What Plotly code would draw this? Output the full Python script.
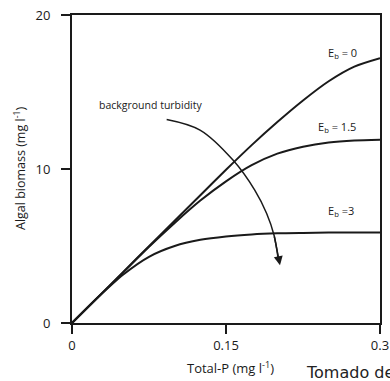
import plotly.graph_objects as go

# Data
total_p = [0.0, 0.025, 0.05, 0.075, 0.1, 0.125, 0.15, 0.175, 0.2, 0.225, 0.25, 0.275, 0.3]
biomass_e0 = [0.0, 1.66, 3.32, 4.98, 6.64, 8.3, 9.95, 11.55, 13.05, 14.45, 15.7, 16.65, 17.2]
biomass_e15 = [0.0, 1.65, 3.3, 4.95, 6.5, 7.95, 9.2, 10.25, 11.0, 11.45, 11.72, 11.85, 11.9]
biomass_e3 = [0.0, 1.65, 3.15, 4.3, 5.0, 5.4, 5.62, 5.75, 5.82, 5.85, 5.87, 5.88, 5.88]

arrow_x = [0.0922, 0.1247, 0.1568, 0.178, 0.1896, 0.1968, 0.2006, 0.2026]
arrow_y = [13.22, 12.53, 10.58, 8.63, 7.11, 5.70, 4.27, 3.75]

x_ticks = [0, 0.15, 0.3]
x_tick_text = ["0", "0.15", "0.3"]
y_ticks = [0, 10, 20]
y_tick_text = ["0", "10", "20"]

line_col = "#1a1a1a"
font_fam = "Open Sans, Liberation Sans, sans-serif"

fig = go.Figure()
for ys in [biomass_e0, biomass_e15, biomass_e3]:
    fig.add_trace(go.Scatter(x=total_p, y=ys, mode="lines",
                             line=dict(color=line_col, width=2, shape="spline", smoothing=0.8),
                             showlegend=False, hoverinfo="skip"))

fig.add_trace(go.Scatter(x=arrow_x[:-1], y=arrow_y[:-1], mode="lines",
                         line=dict(color=line_col, width=1.5, shape="spline"), showlegend=False, hoverinfo="skip"))
fig.add_annotation(x=arrow_x[-1], y=arrow_y[-1], ax=arrow_x[-3], ay=arrow_y[-3], axref="x", ayref="y",
                   xref="x", yref="y", showarrow=True, arrowhead=2, arrowsize=1.2, arrowwidth=1.5,
                   arrowcolor=line_col, text="")

fig.add_annotation(x=0.077, y=13.6, text="background turbidity", showarrow=False, xanchor="center",
                   yanchor="bottom", font=dict(family=font_fam, size=10.5, color=line_col))
fig.add_annotation(x=0.263, y=17.55, text="E<sub>b</sub> = 0", showarrow=False,
                   font=dict(family=font_fam, size=11, color=line_col))
fig.add_annotation(x=0.258, y=12.7, text="E<sub>b</sub> = 1.5", showarrow=False,
                   font=dict(family=font_fam, size=11, color=line_col))
fig.add_annotation(x=0.262, y=7.25, text="E<sub>b</sub> =3", showarrow=False,
                   font=dict(family=font_fam, size=11, color=line_col))

# Axis titles as paper-positioned text
fig.add_annotation(x=0.513, y=-0.146, xref="paper", yref="paper", xanchor="center", yanchor="middle",
                   text="Total-P (mg l<sup>-1</sup>)", showarrow=False,
                   font=dict(family=font_fam, size=13, color=line_col))
fig.add_annotation(x=-0.169, y=0.503, xref="paper", yref="paper", xanchor="center", yanchor="middle",
                   text="Algal biomass (mg l<sup>-1</sup>)", showarrow=False, textangle=-90,
                   font=dict(family=font_fam, size=12.5, color=line_col))

fig.add_annotation(x=0.753, y=-0.123, xref="paper", yref="paper", xanchor="left", yanchor="top",
                   text="Tomado de", showarrow=False,
                   font=dict(family="DejaVu Sans", size=16, color="#222222"))

fig.update_layout(
    width=390, height=381,
    margin=dict(l=72, r=10, t=15, b=58),
    paper_bgcolor="white", plot_bgcolor="white",
    font=dict(family=font_fam, color=line_col),
    xaxis=dict(range=[0, 0.3], tickvals=x_ticks, ticktext=x_tick_text, ticks="outside", ticklen=9,
               tickwidth=1.5, tickcolor=line_col, showline=True, linecolor=line_col, linewidth=2,
               mirror=True, showgrid=False, zeroline=False, tickfont=dict(size=13),
               ticklabeloverflow="allow", automargin=False),
    yaxis=dict(range=[0, 20], tickvals=y_ticks, ticktext=y_tick_text, ticks="outside", ticklen=9,
               tickwidth=1.5, tickcolor=line_col, showline=True, linecolor=line_col, linewidth=2,
               mirror=True, showgrid=False, zeroline=False, tickfont=dict(size=13),
               ticklabelstandoff=8, automargin=False),
)

fig.write_html("out.html")
